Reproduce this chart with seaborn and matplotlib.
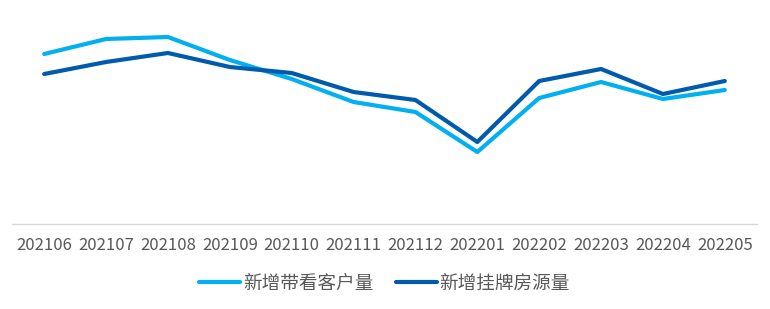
import matplotlib
matplotlib.use("Agg")
import matplotlib.pyplot as plt
import seaborn as sns
import pandas as pd

months = ["202106", "202107", "202108", "202109", "202110", "202111",
          "202112", "202201", "202202", "202203", "202204", "202205"]
series_names = ["新增带看客户量", "新增挂牌房源量"]
customers = [170, 185, 187, 164, 145, 122, 112, 72, 126, 142, 125, 134]
listings = [150, 162, 171, 157, 151, 132, 124, 82, 143, 155, 130, 143]
colors = ["#00B0F0", "#005BAC"]

df = pd.DataFrame({
    "month": months * 2,
    "value": customers + listings,
    "series": [series_names[0]] * len(months) + [series_names[1]] * len(months),
})
df["x"] = list(range(len(months))) * 2

sns.set_theme(style="white")
plt.rcParams["font.family"] = ["Noto Sans CJK SC", "DejaVu Sans"]

fig = plt.figure(figsize=(7.7, 3.09), dpi=100)
ax = fig.add_axes([12 / 770, 85 / 309, 745 / 770, 214 / 309])

sns.lineplot(data=df, x="x", y="value", hue="series", palette=colors,
             linewidth=3, ax=ax, sort=False)

ax.set_xlim(-0.52, 11.52)
ax.set_ylim(0, 214)
ax.set_xticks(range(len(months)))
ax.set_xticklabels(months, fontsize=12, color="#595959")
ax.tick_params(axis="x", length=0, pad=9)
ax.set_yticks([])
ax.set_xlabel("")
ax.set_ylabel("")
for s in ["top", "right", "left"]:
    ax.spines[s].set_visible(False)
ax.spines["bottom"].set_color("#D9D9D9")
ax.spines["bottom"].set_linewidth(1)

handles, labels = ax.get_legend_handles_labels()
ax.legend(handles, labels, loc="center", bbox_to_anchor=(0.5, -0.28),
          ncol=2, frameon=False, fontsize=13.4, handlelength=2.2,
          handletextpad=0.15, columnspacing=1.2, labelcolor="#595959")

fig.savefig("out.png", dpi=100)
